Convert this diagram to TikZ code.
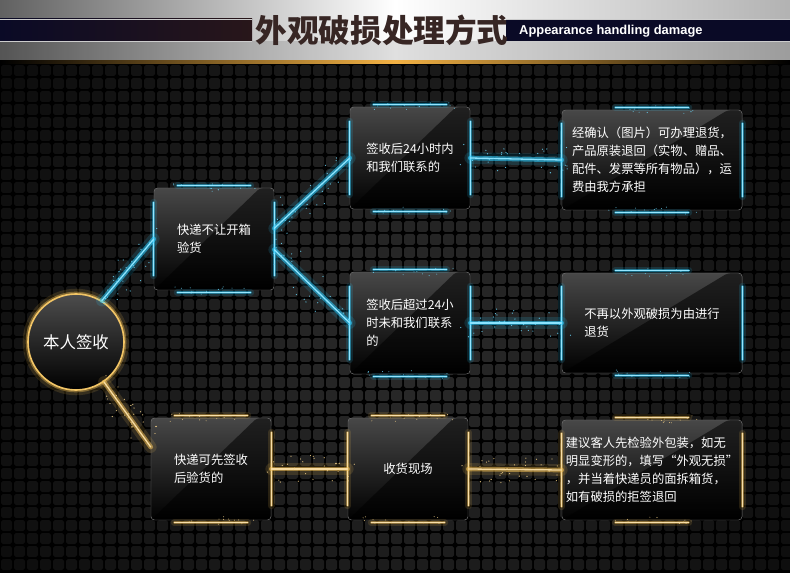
\documentclass[tikz,border=0pt]{standalone}
\usepackage{fontspec}
\setmainfont{Noto Sans CJK SC}
\newfontfamily\latinfont{Liberation Sans}
\usetikzlibrary{calc}
\definecolor{cy}{RGB}{45,205,255}
\definecolor{gd}{RGB}{240,190,85}
\definecolor{navy}{RGB}{10,10,38}
\definecolor{brownish}{RGB}{40,22,26}
\definecolor{titlebrown}{RGB}{55,38,36}
\begin{document}
\begin{tikzpicture}
  [x=0.03cm,y=-0.03cm,
   glow/.style={draw=white!45!#1,line width=1.1pt,line cap=round,
     preaction={draw=#1,line width=10pt,opacity=.15,line cap=round},
     preaction={draw=#1,line width=4pt,opacity=.55,line cap=round}},
   streak/.style={draw=white!50!#1,line width=.6pt,line cap=round,
     preaction={draw=#1,line width=6pt,opacity=.14,line cap=round},
     preaction={draw=#1,line width=2.2pt,opacity=.45,line cap=round}},
   box/.style={rectangle,rounded corners=3pt,minimum width=3.6cm,minimum height=3.06cm,
     top color=black!72,bottom color=black,draw=black!55,line width=.4pt,
     text=white,align=left,font=\fontsize{10.5}{15.5}\selectfont,
     path picture={\fill[black,opacity=.55]
       ([xshift=-12pt]path picture bounding box.north east)
       -- (path picture bounding box.south west)
       -- (path picture bounding box.south east)
       -- (path picture bounding box.north east) -- cycle;}},
   widebox/.style={box,minimum width=5.4cm,minimum height=3cm},
   ring/.style={circle,minimum size=2.88cm,top color=black!70,bottom color=black,
     draw=gd!90!white,line width=1.4pt,text=white,font=\fontsize{14}{14}\selectfont,
     preaction={draw=gd,line width=9pt,opacity=.15},
     preaction={draw=gd,line width=4pt,opacity=.4}}]
  \useasboundingbox (0,0) rectangle (790,573);
  % background with tiles
  \fill[black] (0,0) rectangle (790,573);
  \foreach \i in {0,...,60}
    \foreach \j in {0,...,38} {
      \pgfmathsetmacro\lv{max(4,17-2.6*veclen((\i*13-400)/100,(\j*13+64-330)/100))}
      \fill[white!\lv!black,rounded corners=1.5pt] (\i*13+1,\j*13+65) rectangle ++(11,11);
    }
  % header
  \shade[left color=black!62,right color=black!30,middle color=white] (0,0) rectangle (790,62);
  \fill[black,opacity=.12] (0,41) rectangle (790,62);
  \shade[left color=navy,right color=brownish] (0,19) rectangle (252,41);
  \fill[navy] (506,19) rectangle (790,41);
  \draw[white!80!black,line width=.6pt] (0,19) -- (252,19) (0,41) -- (252,41)
    (506,19) -- (790,19) (506,41) -- (790,41);
  \shade[left color=black,right color=black,middle color=gd!80!orange] (0,61) rectangle (790,64);
  \node (title) at (382,30) {\fontsize{27}{27}\selectfont\bfseries\color{titlebrown}外观破损处理方式};
  \node[anchor=west,text=white,inner sep=0pt] (subtitle) at (519,31)
    {\latinfont\bfseries\fontsize{11}{11}\selectfont Appearance handling damage};
  % nodes
  \node[ring] (sign) at (76,342) {本人签收};
  \node[box] (kd) at (214,239) {快递不让开箱\\验货};
  \node[box] (t1) at (410,158) {签收后24小时内\\和我们联系的};
  \node[box] (t2) at (410,323) {签收后超过24小\\时未和我们联系\\的};
  \node[widebox] (r1) at (652,160) {经确认（图片）可办理退货，\\产品原装退回（实物、赠品、\\配件、发票等所有物品），运\\费由我方承担};
  \node[widebox] (r2) at (652,323) {不再以外观破损为由进行\\退货};
  \node[box] (b1) at (211,469) {快递可先签收\\后验货的};
  \node[box,align=center] (b2) at (408,469) {收货现场};
  \node[widebox] (r3) at (652,470) {建议客人先检验外包装，如无\\明显变形的，填写“外观无损”\\，并当着快递员的面拆箱货，\\如有破损的拒签退回};
  % glow streaks on the boxes
  \foreach \b/\c in {kd/cy,t1/cy,t2/cy,r1/cy,r2/cy,b1/gd,b2/gd,r3/gd} {
    \draw[streak=\c] ([xshift=-1.1cm,yshift=2pt]\b.north) -- ([xshift=1.1cm,yshift=2pt]\b.north);
    \draw[streak=\c] ([xshift=-1.1cm,yshift=-2pt]\b.south) -- ([xshift=1.1cm,yshift=-2pt]\b.south);
  }
  \foreach \a/\c in {kd.west/cy,kd.east/cy,t1.west/cy,t1.east/cy,t2.west/cy,t2.east/cy,
                     r1.west/cy,r1.east/cy,r2.west/cy,r2.east/cy,
                     b1.east/gd,b2.west/gd,b2.east/gd,r3.west/gd,r3.east/gd}
    \draw[streak=\c] ([yshift=1.1cm]\a) -- ([yshift=-1.1cm]\a);
  % connectors
  \foreach \from/\to/\c in {sign.58/kd.west/cy,kd.10/t1.west/cy,kd.-10/t2.west/cy,
                            t1.east/r1.west/cy,t2.east/r2.west/cy,
                            sign.-55/b1.160/gd,b1.east/b2.west/gd,b2.east/r3.west/gd} {
    \draw[glow=\c] (\from) -- (\to);
  }
  % sparkles
  \pgfmathsetseed{11}
  \foreach \from/\to/\c in {sign.58/kd.west/cy,kd.10/t1.west/cy,kd.-10/t2.west/cy,
                            t1.east/r1.west/cy,t2.east/r2.west/cy,
                            sign.-55/b1.160/gd,b1.east/b2.west/gd,b2.east/r3.west/gd}
    \foreach \k in {1,...,30}
      \fill[\c!70!white,opacity=.85] ($(\from)!{rnd}!(\to)+({14*rand},{14*rand})$) circle (.55pt);
  \foreach \b/\c in {kd/cy,t1/cy,t2/cy,r1/cy,r2/cy,b1/gd,b2/gd,r3/gd}
    \foreach \k in {1,...,12} {
      \fill[\c!70!white,opacity=.8] ($(\b.north)+({45*rand},{4*rand})$) circle (.45pt);
      \fill[\c!70!white,opacity=.8] ($(\b.south)+({45*rand},{4*rand})$) circle (.45pt);
    }
\end{tikzpicture}
\end{document}
